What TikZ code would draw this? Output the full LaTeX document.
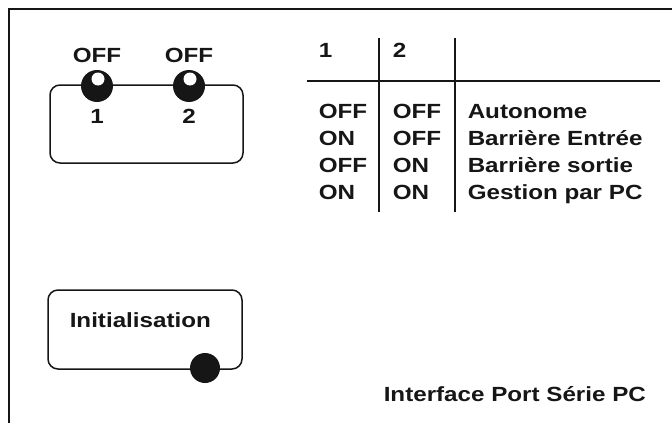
\documentclass[tikz,border=0pt]{standalone}
\usepackage{fontspec}
\setmainfont{Liberation Sans}[FakeStretch=1.18]
\usetikzlibrary{positioning}
\definecolor{ink}{HTML}{161616}

\begin{document}
\begin{tikzpicture}[x=1pt, y=-1pt, color=ink, line width=1.5pt,
    lbl/.style={font=\fontsize{20.5}{24}\selectfont\bfseries, inner sep=0pt, anchor=base},
    cell/.style={lbl, anchor=base west},
    panel/.style={draw, rounded corners=10pt, inner sep=0pt}]
  \useasboundingbox (0,0) rectangle (672,423);

  % Frame (top and left edges only)
  \coordinate (TR) at (672,9);
  \coordinate (TL) at (9,9);
  \coordinate (BL) at (9,423);
  \draw[line width=2pt] (TR) -- (TL) -- (BL);

  % DIP switches
  \node[panel, minimum width=193pt, minimum height=78pt] (dip) at (146.5,124) {};
  \foreach \n/\x in {1/97, 2/189} {
    \fill (\x,86) circle (16);
    \fill[white] (\x+1,79) circle (6.5);
    \node[lbl] (off\n) at (\x,62) {OFF};
    \node[lbl] (num\n) at (\x,123) {\n};
  }

  % Table of switch settings
  \coordinate (hl) at (307,81);
  \coordinate (hr) at (660,81);
  \coordinate (v1t) at (379,38);
  \coordinate (v1b) at (379,212);
  \coordinate (v2t) at (455,38);
  \coordinate (v2b) at (455,212);
  \draw (hl) -- (hr);
  \draw (v1t) -- (v1b) (v2t) -- (v2b);

  \node[cell] (h1) at (318,57) {1};
  \node[cell] (h2) at (392,57) {2};
  \foreach \i/\a/\b/\m in {0/OFF/OFF/Autonome, 1/ON/OFF/Barrière Entrée,
                           2/OFF/ON/Barrière sortie, 3/ON/ON/Gestion par PC} {
    \node[cell] (a\i) at (318,118+27*\i) {\a};
    \node[cell] (b\i) at (392,118+27*\i) {\b};
    \node[cell] (m\i) at (467,118+27*\i) {\m};
  }

  % Reset button
  \node[panel, minimum width=194pt, minimum height=79pt] (init) at (145,329.5) {};
  \node[cell] (initlbl) at (69,327) {Initialisation};
  \fill (205,368) circle (15);

  \node[cell] (port) at (383,401) {Interface Port Série PC};
\end{tikzpicture}
\end{document}
